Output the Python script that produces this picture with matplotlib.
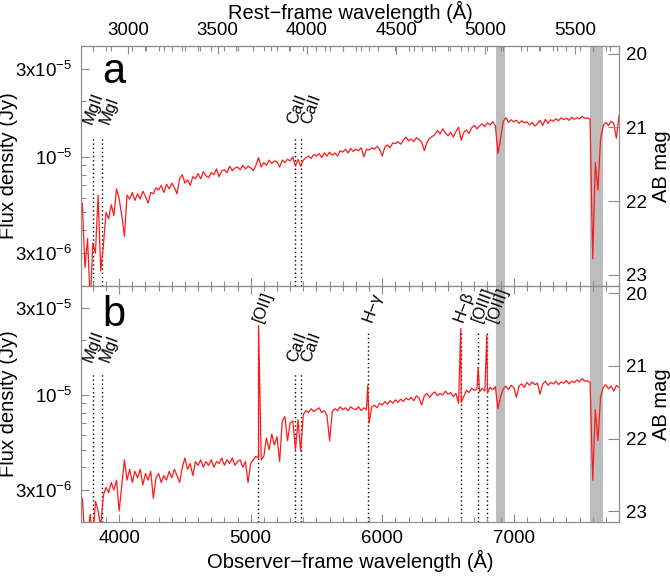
import numpy as np
import matplotlib
matplotlib.use('Agg')
import matplotlib.pyplot as plt
import matplotlib.transforms as mtransforms
from matplotlib.ticker import FixedLocator, FixedFormatter, MultipleLocator, NullFormatter

plt.rcParams['font.family'] = ['Liberation Sans', 'DejaVu Sans']
plt.rcParams['mathtext.fontset'] = 'custom'
plt.rcParams['mathtext.rm'] = 'Liberation Sans'
plt.rcParams['mathtext.it'] = 'Liberation Sans:italic'
plt.rcParams['mathtext.default'] = 'regular'

# redshift of the host (observer / rest wavelength)
z = 0.357

# sampling grid of the spectra (observer frame, Angstrom)
wave = np.arange(3700, 7820, 20)

# panel a flux, units of 1e-6 Jy, one row per 200 A
flux_a = [
    4.6, 5.6, 2.5, 3.6, 1.6, 3.4, 3.0, 6.2, 2.4, 3.3,
    5.0, 4.6, 5.5, 4.8, 6.7, 5.9, 4.8, 3.7, 6.2, 5.9,
    6.4, 5.8, 6.3, 5.9, 6.5, 6.1, 5.6, 6.4, 6.3, 6.8,
    6.6, 7.0, 6.4, 7.1, 6.7, 7.2, 6.8, 6.3, 7.6, 8.0,
    7.2, 7.5, 7.0, 7.8, 7.6, 8.1, 7.6, 8.3, 7.9, 7.7,
    8.2, 8.0, 8.6, 7.8, 8.4, 8.5, 8.2, 8.9, 8.4, 8.7,
    8.8, 8.5, 9.0, 8.6, 8.9, 8.7, 8.4, 9.0, 9.9, 8.8,
    9.3, 9.0, 9.6, 9.2, 9.5, 9.4, 8.8, 9.6, 9.3, 9.7,
    9.5, 10.0, 8.9, 9.7, 8.9, 9.6, 9.9, 10.1, 9.8, 10.3,
    10.1, 10.4, 9.9, 10.5, 10.1, 10.6, 10.2, 10.5, 10.1, 10.8,
    10.6, 11.0, 10.5, 11.1, 10.7, 11.0, 10.8, 11.2, 10.0, 11.0,
    10.9, 11.2, 11.0, 11.4, 11.0, 10.1, 11.3, 11.6, 11.2, 11.9,
    11.8, 12.1, 11.7, 12.3, 12.8, 12.2, 12.5, 12.1, 12.7, 12.4,
    12.0, 10.8, 12.0, 12.6, 12.9, 13.2, 13.9, 13.3, 14.2, 13.5,
    13.0, 13.6, 12.8, 13.7, 14.5, 12.3, 13.6, 14.0, 13.4, 14.4,
    14.8, 14.2, 14.7, 15.1, 14.6, 15.3, 14.9, 15.5, 14.8, 10.4,
    12.6, 15.6, 16.3, 15.4, 15.9, 15.5, 15.8, 15.2, 15.7, 15.3,
    15.5, 14.9, 15.4, 14.7, 15.1, 15.8, 14.8, 16.0, 15.2, 15.9,
    15.6, 16.1, 15.7, 16.3, 15.9, 16.2, 15.8, 16.4, 16.0, 16.3,
    16.1, 16.6, 16.2, 16.3, 16.0, 2.8, 9.3, 6.6, 12.6, 14.8,
    15.4, 14.8, 15.6, 15.2, 12.6, 16.8,
]

# panel b flux, units of 1e-6 Jy
flux_b = [
    2.5, 2.7, 1.6, 1.7, 2.2, 1.6, 2.6, 2.3, 1.9, 2.8,
    3.1, 2.9, 3.3, 3.0, 3.4, 2.3, 3.2, 4.4, 3.4, 3.9,
    3.3, 3.8, 3.5, 3.9, 3.2, 3.7, 3.4, 3.8, 2.7, 3.5,
    3.7, 3.3, 3.6, 3.4, 3.8, 3.5, 3.9, 3.6, 3.3, 4.0,
    4.5, 3.9, 4.2, 3.6, 4.3, 4.1, 4.4, 4.0, 4.3, 4.1,
    4.4, 4.0, 4.3, 4.2, 4.5, 4.1, 4.4, 4.2, 4.5, 4.1,
    4.3, 4.4, 4.0, 4.3, 3.3, 4.2, 4.4, 4.6, 4.5, 4.4,
    4.6, 5.8, 5.0, 6.1, 5.3, 5.9, 4.3, 7.2, 7.6, 5.6,
    7.0, 7.2, 5.0, 7.3, 4.9, 7.8, 8.2, 8.0, 8.4, 8.1,
    8.3, 8.5, 8.0, 8.2, 7.7, 5.6, 8.1, 8.4, 8.2, 8.6,
    8.3, 8.5, 8.2, 8.6, 8.4, 8.3, 8.6, 8.2, 8.5, 8.3,
    7.0, 8.6, 8.8, 8.5, 9.0, 8.8, 9.2, 8.9, 9.3, 9.0,
    9.4, 9.1, 9.5, 9.2, 9.6, 9.4, 9.7, 9.3, 9.9, 9.6,
    8.8, 9.9, 10.2, 9.7, 10.1, 10.4, 9.9, 10.2, 10.0, 10.5,
    10.1, 10.3, 9.8, 10.2, 9.0, 9.1, 9.8, 10.6, 10.3, 10.9,
    10.6, 10.8, 10.4, 10.9, 10.5, 10.3, 11.0, 10.7, 11.1, 8.4,
    9.8, 10.8, 11.2, 10.7, 11.3, 11.0, 9.7, 11.2, 11.5, 11.0,
    11.7, 11.3, 11.8, 11.4, 11.6, 10.1, 11.5, 11.9, 11.3, 11.7,
    11.5, 11.9, 11.4, 11.8, 11.6, 12.0, 11.5, 11.9, 11.7, 12.1,
    11.8, 12.3, 11.9, 12.0, 11.7, 3.4, 8.3, 5.6, 9.8, 11.0,
    11.4, 10.8, 11.2, 10.5, 11.3, 11.0,
]

# narrow emission peaks in panel b (observer wavelength, 1e-6 Jy)
em_wave_b = [5060, 5890, 6597, 6729, 6795]
em_flux_b = [24.1, 11.3, 23.2, 14.2, 21.3]

# line identifications (rest wavelength) and label nudge in pixels
abs_names = ['MgII', 'MgI', 'CaII', 'CaII']
abs_rest = [2799, 2852, 3934, 3969]
abs_nudge = [-5, 3, -3, 4]
em_names = ['[OII]', 'H\u2212\u03b3', 'H\u2212\u03b2', '[OIII]', '[OIII]']
em_rest = [3727, 4340, 4861, 4959, 5007]
em_nudge = [0, 0, -2, -1, 5]

# telluric absorption bands (observer frame)
telluric = [(6866, 6937), (7582, 7681)]

ylo, yhi = 2e-6, 4e-5
grey = '#8c8c8c'
tick_fs = 13.5
label_fs = 14.5


def mag(f):
    return -2.5 * np.log10(f / 3631.0)


def style_axis(ax):
    for sp in ax.spines.values():
        sp.set_color(grey)
    ax.set_yscale('log')
    ax.set_xlim(3710, 7800)
    ax.set_ylim(ylo, yhi)
    ax.xaxis.set_major_locator(MultipleLocator(1000))
    ax.xaxis.set_minor_locator(MultipleLocator(100))
    ax.yaxis.set_major_locator(FixedLocator([3e-6, 1e-5, 3e-5]))
    ax.yaxis.set_major_formatter(FixedFormatter(['3x10$^{-6}$', '10$^{-5}$', '3x10$^{-5}$']))
    ax.yaxis.set_minor_locator(FixedLocator([2e-6, 4e-6, 5e-6, 6e-6, 7e-6, 8e-6, 9e-6, 2e-5]))
    ax.yaxis.set_minor_formatter(NullFormatter())
    ax.tick_params(which='both', direction='in', color=grey, labelsize=tick_fs,
                   top=True, right=False)
    ax.tick_params(which='major', length=6, width=0.8)
    ax.tick_params(which='minor', length=3.5, width=0.8)
    ax.tick_params(axis='y', pad=6.5)
    ax.tick_params(axis='x', pad=6)
    ax.set_ylabel('Flux density (Jy)', fontsize=label_fs)
    ax.yaxis.set_label_coords(-0.118, 0.5)

    ax2 = ax.twinx()
    ax2.set_ylim(mag(ylo), mag(yhi))
    ax2.yaxis.set_major_locator(FixedLocator([20, 21, 22, 23]))
    ax2.tick_params(direction='in', color=grey, length=8, width=0.8,
                    labelsize=tick_fs, pad=5)
    for sp in ax2.spines.values():
        sp.set_color(grey)
    ax2.set_ylabel('AB mag', fontsize=label_fs)
    ax2.yaxis.set_label_coords(1.062, 0.5)

    for lo, hi in telluric:
        ax.axvspan(lo, hi, color='#bdbdbd', lw=0, zorder=0)


def mark_line(ax, rest, name, nudge, ytop, ylab):
    x = rest * (1 + z)
    ax.plot([x, x], [ylo, ytop], ls=(0, (1, 2)), color='k', lw=1.0, zorder=1)
    shift = mtransforms.ScaledTranslation(nudge / 100.0, 0, fig.dpi_scale_trans)
    ax.text(x, ylab, name, rotation=70, rotation_mode='anchor', ha='left',
            va='center', fontsize=12, zorder=3, transform=ax.transData + shift)


fig = plt.figure(figsize=(6.7, 5.81), dpi=100)
ax_a = fig.add_axes([0.1209, 0.5086, 0.8030, 0.4122])
ax_b = fig.add_axes([0.1209, 0.1015, 0.8030, 0.4071])

# ---- panel a
style_axis(ax_a)
ax_a.tick_params(axis='x', labelbottom=False, top=False)
ax_a.plot(wave, np.array(flux_a) * 1e-6, color='#ff1a1a', lw=0.9, zorder=2)
for name, rest, nd in zip(abs_names, abs_rest, abs_nudge):
    mark_line(ax_a, rest, name, nd, 1.3e-5, 1.52e-5)
ax_a.text(0.04, 0.845, 'a', transform=ax_a.transAxes, fontsize=30)

sec = ax_a.secondary_xaxis('top', functions=(lambda x: x / (1 + z), lambda x: x * (1 + z)))
sec.xaxis.set_major_locator(FixedLocator([3000, 3500, 4000, 4500, 5000, 5500]))
sec.xaxis.set_minor_locator(MultipleLocator(100))
sec.tick_params(which='both', direction='in', color=grey, labelsize=tick_fs, pad=5)
sec.tick_params(which='major', length=6, width=0.8)
sec.tick_params(which='minor', length=3.5, width=0.8)
sec.spines['top'].set_color(grey)
sec.set_xlabel('Rest\u2212frame wavelength (\u00c5)', fontsize=label_fs, labelpad=2)

# ---- panel b
style_axis(ax_b)
wb = np.concatenate([wave, em_wave_b])
fb = np.concatenate([flux_b, em_flux_b])
order = np.argsort(wb, kind='stable')
ax_b.plot(wb[order], fb[order] * 1e-6, color='#ff1a1a', lw=0.9, zorder=2)
for name, rest, nd in zip(abs_names, abs_rest, abs_nudge):
    mark_line(ax_b, rest, name, nd, 1.3e-5, 1.52e-5)
for name, rest, nd in zip(em_names, em_rest, em_nudge):
    mark_line(ax_b, rest, name, nd, 2.26e-5, 2.55e-5)
ax_b.text(0.04, 0.83, 'b', transform=ax_b.transAxes, fontsize=30)
ax_b.set_xlabel('Observer\u2212frame wavelength (\u00c5)', fontsize=label_fs, labelpad=2)

fig.savefig('out.png', dpi=100)
